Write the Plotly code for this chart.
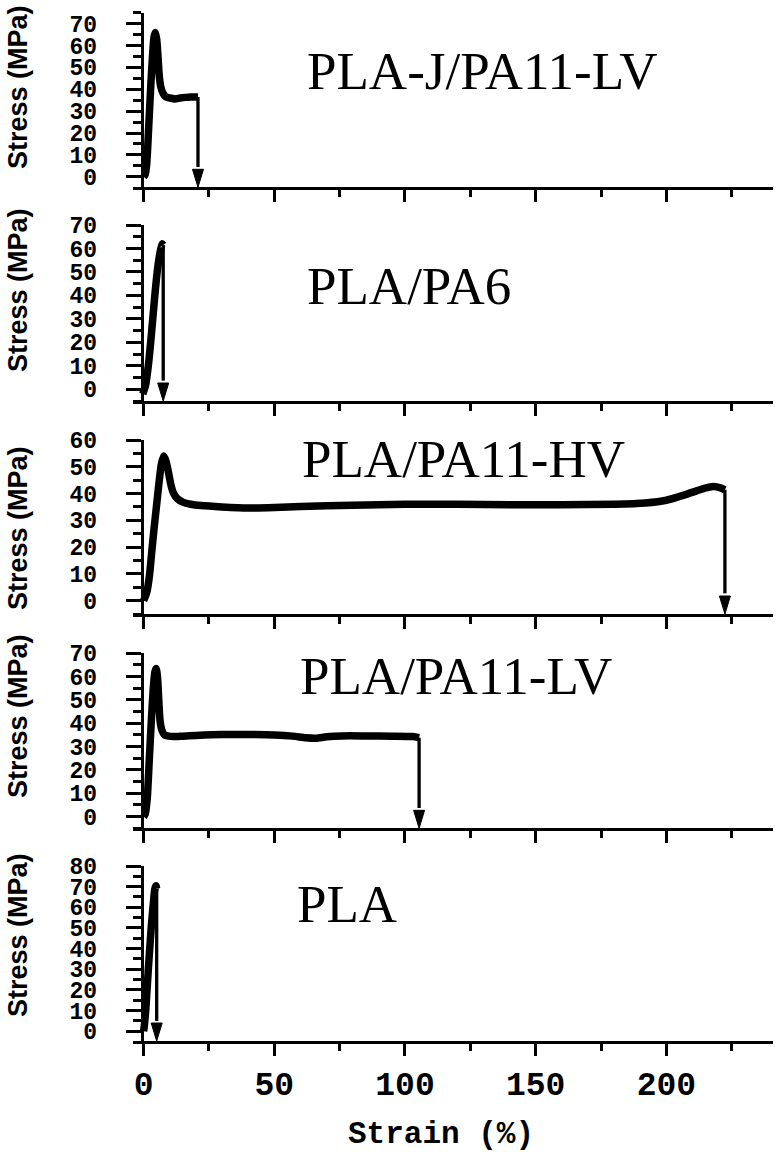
import plotly.graph_objects as go

# ---------------- data ----------------
labels = ["PLA-J/PA11-LV", "PLA/PA6", "PLA/PA11-HV", "PLA/PA11-LV", "PLA"]

strain_plaj_pa11lv = [0, 0.6, 1.2, 2.0, 2.8, 3.5, 4.0, 4.5, 5.0, 5.5, 6.0, 6.6, 7.5, 8.5, 10, 12, 14, 16, 18, 20.8]
stress_plaj_pa11lv = [0, 1, 6, 24, 43, 57, 64, 66, 63, 55, 46, 41, 38, 36.5, 36, 35.6, 36, 36.3, 36.5, 36.5]

strain_pla_pa6 = [-0.3, 0.8, 1.8, 2.7, 3.5, 4.3, 5.2, 6.0, 6.6, 7.1, 7.5]
stress_pla_pa6 = [-2, 2, 10, 20, 30, 40, 50, 56.5, 60, 62, 61.5]

strain_pla_pa11hv = [0, 1.2, 2.2, 3.1, 4.0, 5.0, 6.0, 6.8, 7.7, 8.6, 9.5, 10.5, 11.5, 13, 15, 18, 22, 30,
                     40, 50, 60, 80, 100, 120, 140, 160, 180, 192, 200, 207, 213, 218, 221, 222.4]
stress_pla_pa11hv = [0, 3, 9, 18, 27, 36, 45, 51, 54, 52, 48, 43, 40, 38, 36.8, 36, 35.5, 35,
                     34.6, 34.8, 35.2, 35.6, 36, 36, 35.8, 35.8, 36, 36.5, 37.5, 39.5, 41.5, 42.6, 42, 41.4]

strain_pla_pa11lv = [0, 0.6, 1.4, 2.2, 3.0, 3.7, 4.3, 4.8, 5.3, 5.8, 6.3, 7.0, 8.0, 9.5, 11.5, 15, 20, 30,
                     40, 50, 57, 62, 66, 70, 76, 85, 95, 103, 105.4]
stress_pla_pa11lv = [0, 1, 8, 25, 42, 55, 62, 63.5, 60, 50, 41, 37, 35, 34.5, 34.3, 34.5, 34.8, 35.2,
                     35.2, 35, 34.5, 33.8, 33.6, 34.2, 34.6, 34.6, 34.5, 34.3, 33.8]

strain_pla = [0, 0.3, 0.8, 1.8, 2.9, 3.8, 4.3, 4.7, 5.0]
stress_pla = [0, 3, 10, 30, 50, 63, 69, 70.5, 69]

strains = [strain_plaj_pa11lv, strain_pla_pa6, strain_pla_pa11hv, strain_pla_pa11lv, strain_pla]
stresses = [stress_plaj_pa11lv, stress_pla_pa6, stress_pla_pa11hv, stress_pla_pa11lv, stress_pla]

x_tick_vals = [0, 50, 100, 150, 200]

# ---------------- layout geometry (screen pixels; page body margin removed) ----------------
W, H = 776, 1152
PLOT_L, PLOT_R, PLOT_T, PLOT_B = 133, 773, 10, 1041
ML, MR, MT, MB = PLOT_L, W - PLOT_R, PLOT_T, H - PLOT_B
PW, PH = PLOT_R - PLOT_L, PLOT_B - PLOT_T

panel_px = [(12.7, 187.3), (225, 401), (440, 614), (653.3, 828.3), (866, 1041)]
y_ranges = [[-4.8, 75], [-5, 70], [-5, 60], [-5, 70], [-4.7, 80]]
x_range = [-4.06, 240.8]
yaxis_pos = (141.5 - PLOT_L) / PW

ytitle_center_px = [87, 290, 528, 716, 935]
label_px = [(305, 71), (305, 286), (300, 459), (298, 676), (295, 904)]

HEAD_W_PX, HEAD_L_PX = 11, 18


def py2paper(py):
    return (PLOT_B - py) / PH


def px2paper(px):
    return (px - PLOT_L) / PW


fig = go.Figure()
annotations = []
layout_axes = {}
x_per_px = (x_range[1] - x_range[0]) / PW

for i in range(5):
    n = "" if i == 0 else str(i + 1)
    xa, ya = "x" + n, "y" + n
    top_px, bot_px = panel_px[i]
    y_per_px = (y_ranges[i][1] - y_ranges[i][0]) / (bot_px - top_px)

    # stress-strain curve
    fig.add_trace(go.Scatter(
        x=strains[i], y=stresses[i], mode="lines",
        line=dict(color="black", width=7.5, shape="spline", smoothing=0.6),
        xaxis=xa, yaxis=ya, showlegend=False, hoverinfo="skip"))

    # break arrow: shaft + narrow head, from the last point down to the axis
    xb, yb = strains[i][-1], stresses[i][-1]
    y_tip = y_ranges[i][0]
    y_base = y_tip + HEAD_L_PX * y_per_px
    hw = HEAD_W_PX / 2 * x_per_px
    fig.add_trace(go.Scatter(
        x=[xb, xb], y=[yb, y_base + 1], mode="lines",
        line=dict(color="black", width=3.3),
        xaxis=xa, yaxis=ya, showlegend=False, hoverinfo="skip"))
    fig.add_trace(go.Scatter(
        x=[xb - hw, xb + hw, xb, xb - hw], y=[y_base, y_base, y_tip, y_base],
        mode="lines", fill="toself", fillcolor="black",
        line=dict(color="black", width=1),
        xaxis=xa, yaxis=ya, showlegend=False, hoverinfo="skip"))

    layout_axes["xaxis" + n] = dict(
        domain=[0, 1], range=x_range, anchor=ya, automargin=False,
        showline=True, linecolor="black", linewidth=2.5,
        ticks="outside", ticklen=12, tickwidth=2.5, tickcolor="black",
        tickmode="array", tickvals=x_tick_vals,
        minor=dict(ticks="outside", ticklen=7, tickwidth=2.5, tickcolor="black", dtick=25, tick0=0),
        showgrid=False, zeroline=False,
        showticklabels=(i == 4),
        tickfont=dict(family="Liberation Mono", size=33, color="black", weight="bold"),
        ticklabelstandoff=0,
    )
    layout_axes["yaxis" + n] = dict(
        domain=[py2paper(bot_px), py2paper(top_px)], range=y_ranges[i],
        anchor="free", position=yaxis_pos, automargin=False,
        showline=True, linecolor="black", linewidth=2.5,
        ticks="outside", ticklen=15, tickwidth=2.5, tickcolor="black",
        tick0=0, dtick=10,
        minor=dict(ticks="outside", ticklen=8, tickwidth=2.5, tickcolor="black", dtick=5, tick0=0),
        showgrid=False, zeroline=False,
        tickfont=dict(family="Liberation Mono", size=23, color="black", weight="bold"),
        ticklabelstandoff=24,
    )

    # y title
    annotations.append(dict(
        text="Stress (MPa)", textangle=-90,
        x=px2paper(18), y=py2paper(ytitle_center_px[i]), xref="paper", yref="paper",
        xanchor="center", yanchor="middle", showarrow=False,
        font=dict(family="Liberation Sans", size=27, color="black", weight="bold")))

    # sample label
    lx, ly = label_px[i]
    annotations.append(dict(
        text=labels[i], x=px2paper(lx), y=py2paper(ly), xref="paper", yref="paper",
        xanchor="left", yanchor="middle", showarrow=False,
        font=dict(family="Liberation Serif", size=53, color="black")))

annotations.append(dict(
    text="Strain (%)", x=px2paper(441), y=py2paper(1134), xref="paper", yref="paper",
    xanchor="center", yanchor="middle", showarrow=False,
    font=dict(family="Liberation Mono", size=31, color="black", weight="bold")))

fig.update_layout(
    width=W, height=H,
    margin=dict(l=ML, r=MR, t=MT, b=MB, autoexpand=False),
    plot_bgcolor="white", paper_bgcolor="white",
    annotations=annotations,
    **layout_axes,
)

fig.write_html("out.html", config={"displayModeBar": False},
               post_script="document.body.style.margin='0px';")
